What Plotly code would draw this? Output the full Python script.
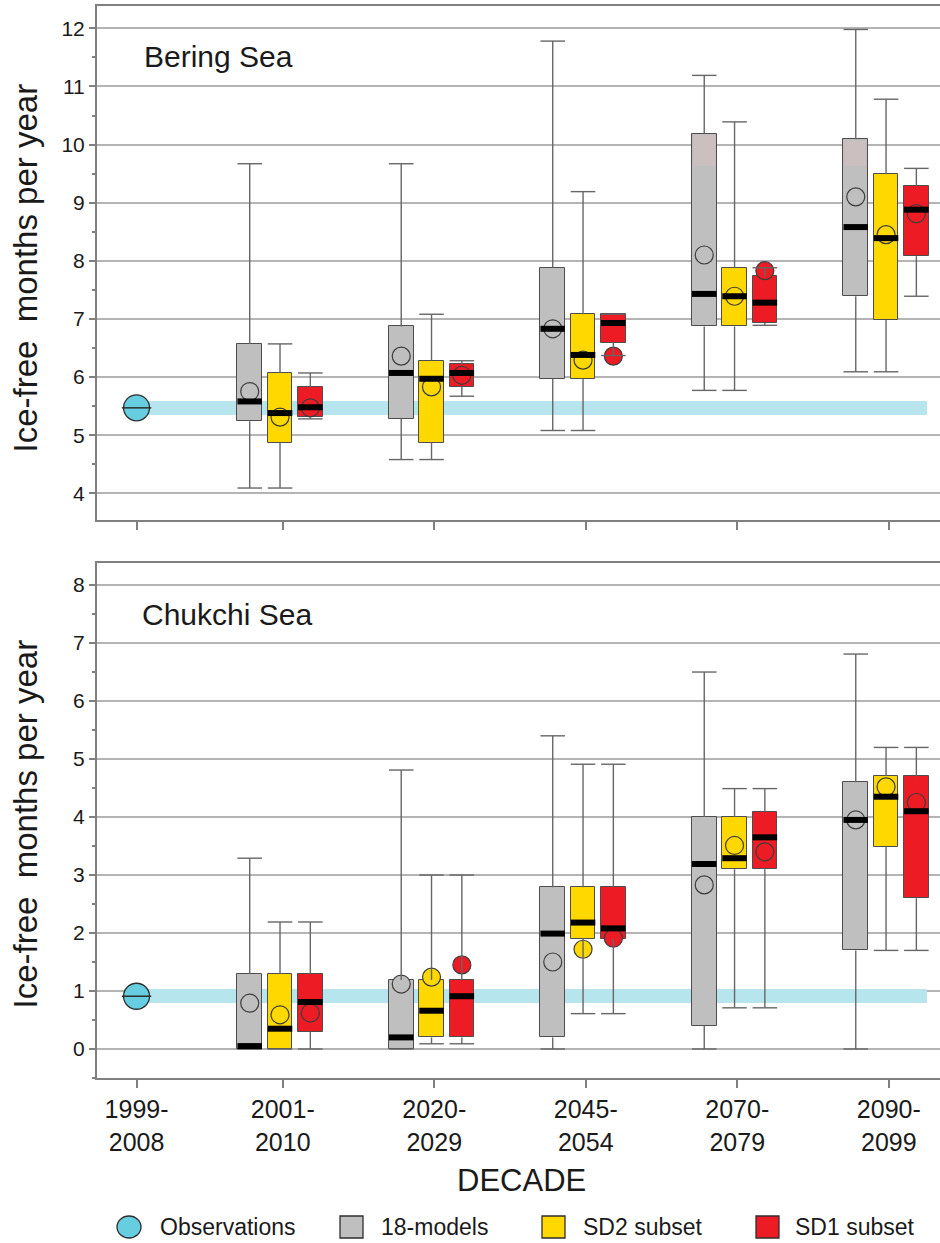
import plotly.graph_objects as go

# ---------------- data ----------------
decade_labels = ["1999-<br>2008", "2001-<br>2010", "2020-<br>2029",
                 "2045-<br>2054", "2070-<br>2079", "2090-<br>2099"]
series_names = ["18-models", "SD2 subset", "SD1 subset"]

# Bering Sea
bering_obs = 5.47
bering_18_lo = [4.09, 4.58, 5.08, 5.77, 6.09]
bering_18_q1 = [5.24, 5.28, 5.97, 6.87, 7.39]
bering_18_med = [5.58, 6.07, 6.83, 7.43, 8.58]
bering_18_q3 = [6.57, 6.87, 7.88, 10.19, 10.09]
bering_18_hi = [9.67, 9.67, 11.78, 11.19, 11.98]
bering_18_mean = [5.75, 6.36, 6.83, 8.10, 9.10]
# faint pinkish tint visible at the top of two grey boxes (lower edge of tint)
bering_18_tint = [None, None, None, 9.63, 9.63]

bering_sd2_lo = [4.09, 4.58, 5.08, 5.77, 6.09]
bering_sd2_q1 = [4.87, 4.87, 5.97, 6.87, 6.98]
bering_sd2_med = [5.38, 5.97, 6.38, 7.39, 8.39]
bering_sd2_q3 = [6.07, 6.28, 7.08, 7.88, 9.49]
bering_sd2_hi = [6.57, 7.08, 9.19, 10.39, 10.78]
bering_sd2_mean = [5.31, 5.83, 6.29, 7.39, 8.45]

bering_sd1_lo = [5.28, 5.67, 6.37, 6.89, 7.39]
bering_sd1_q1 = [5.31, 5.83, 6.59, 6.93, 8.08]
bering_sd1_med = [5.48, 6.07, 6.93, 7.28, 8.88]
bering_sd1_q3 = [5.82, 6.22, 7.08, 7.73, 9.29]
bering_sd1_hi = [6.07, 6.28, 7.08, 7.88, 9.59]
bering_sd1_mean = [5.47, 6.03, 6.36, 7.83, 8.81]

# Chukchi Sea
chukchi_obs = 0.91
chukchi_18_lo = [0.0, 0.0, 0.0, 0.0, 0.0]
chukchi_18_q1 = [0.0, 0.0, 0.20, 0.40, 1.70]
chukchi_18_med = [0.05, 0.20, 1.99, 3.19, 3.95]
chukchi_18_q3 = [1.30, 1.19, 2.79, 4.00, 4.60]
chukchi_18_hi = [3.29, 4.81, 5.40, 6.50, 6.81]
chukchi_18_mean = [0.79, 1.12, 1.50, 2.83, 3.95]

chukchi_sd2_lo = [0.0, 0.09, 0.61, 0.71, 1.70]
chukchi_sd2_q1 = [0.0, 0.20, 1.90, 3.10, 3.49]
chukchi_sd2_med = [0.35, 0.66, 2.18, 3.29, 4.35]
chukchi_sd2_q3 = [1.30, 1.19, 2.79, 4.00, 4.71]
chukchi_sd2_hi = [2.19, 3.00, 4.91, 4.49, 5.20]
chukchi_sd2_mean = [0.59, 1.24, 1.72, 3.51, 4.52]

chukchi_sd1_lo = [0.0, 0.09, 0.61, 0.71, 1.70]
chukchi_sd1_q1 = [0.30, 0.20, 1.90, 3.10, 2.60]
chukchi_sd1_med = [0.81, 0.91, 2.08, 3.65, 4.10]
chukchi_sd1_q3 = [1.30, 1.19, 2.79, 4.09, 4.70]
chukchi_sd1_hi = [2.19, 3.00, 4.91, 4.49, 5.20]
chukchi_sd1_mean = [0.62, 1.45, 1.91, 3.40, 4.25]

# ---------------- style ----------------
FONT = "Arial, Liberation Sans, sans-serif"
TXT = "#1a1a1a"
C_GRAY = "#bfbfbf"
C_TINT = "#cbbfbf"
C_YEL = "#ffd800"
C_RED = "#ed1c24"
C_OBS = "#67cde0"
C_BAND = "#b6e5ed"
EDGE = "#4d4d4d"
WHISK = "#666666"
AXC = "#808080"
GRID = "#b4b4b4"

W, H = 940, 1243
ML, MR, MT, MB = 97, 0, 6, 165
PW, PH = W - ML - MR, H - MT - MB


def pxx(px):
    return (px - ML) / PW


def pxy(py):
    return (H - MB - py) / PH


DECADE_X = [0.035, 1, 2, 3, 4, 5]
OFFSETS = [-0.218, -0.018, 0.182]
BOX_W = 0.162
TINT_W = 0.14
BAND_END = 5.25
BAND_W = 0.245
model_pos = DECADE_X[1:]
obs_pos = DECADE_X[0]

fig = go.Figure()


def add_panel(xa, ya, obs, groups, tint=None):
    # observation band (horizontal bar behind the boxes)
    fig.add_trace(go.Bar(orientation="h", y=[obs], x=[BAND_END - obs_pos], base=[obs_pos],
                         width=BAND_W, marker=dict(color=C_BAND, line=dict(width=0)),
                         xaxis=xa, yaxis=ya, showlegend=False, hoverinfo="skip"))
    cols = [C_GRAY, C_YEL, C_RED]
    for (lo, q1, med, q3, hi, mean), off, col in zip(groups, OFFSETS, cols):
        xs = [p + off for p in model_pos]
        fig.add_trace(go.Bar(x=xs, y=[b - a for a, b in zip(q1, q3)], base=q1, width=BOX_W,
                             marker=dict(color=col, line=dict(color=EDGE, width=1)),
                             xaxis=xa, yaxis=ya, showlegend=False, hoverinfo="skip"))
    if tint is not None:
        q3 = groups[0][3]
        tx, ty, tb = [], [], []
        for p, t, b in zip(model_pos, tint, q3):
            if t is not None:
                tx.append(p + OFFSETS[0])
                tb.append(t)
                ty.append(b - t - 0.03)
        fig.add_trace(go.Bar(x=tx, y=ty, base=tb, width=TINT_W,
                             marker=dict(color=C_TINT, line=dict(width=0)),
                             xaxis=xa, yaxis=ya, showlegend=False, hoverinfo="skip"))
    for (lo, q1, med, q3, hi, mean), off, col in zip(groups, OFFSETS, cols):
        xs = [p + off for p in model_pos]
        fig.add_trace(go.Scatter(x=xs, y=mean, mode="markers",
                                 marker=dict(symbol="circle", size=18, color=col,
                                             line=dict(color="#3d3d3d", width=1.2)),
                                 xaxis=xa, yaxis=ya, showlegend=False, hoverinfo="skip"))
    for (lo, q1, med, q3, hi, mean), off, col in zip(groups, OFFSETS, cols):
        wx, wy = [], []
        mx, my = [], []
        for p, l, a, m, b, h in zip(model_pos, lo, q1, med, q3, hi):
            c = p + off
            wx += [c, c, None, c - BOX_W / 2, c + BOX_W / 2, None]
            wy += [b, h, None, h, h, None]
            wx += [c, c, None, c - BOX_W / 2, c + BOX_W / 2, None]
            wy += [a, l, None, l, l, None]
            mx += [c - BOX_W / 2, c + BOX_W / 2, None]
            my += [m, m, None]
        fig.add_trace(go.Scatter(x=wx, y=wy, mode="lines", line=dict(color=WHISK, width=1.4),
                                 xaxis=xa, yaxis=ya, showlegend=False, hoverinfo="skip"))
        fig.add_trace(go.Scatter(x=mx, y=my, mode="lines", line=dict(color="black", width=6),
                                 xaxis=xa, yaxis=ya, showlegend=False, hoverinfo="skip"))
    fig.add_trace(go.Scatter(x=[obs_pos], y=[obs], mode="markers",
                             marker=dict(symbol="circle", size=26, color=C_OBS,
                                         line=dict(color="#2e2e2e", width=1.3)),
                             xaxis=xa, yaxis=ya, showlegend=False, hoverinfo="skip"))
    fig.add_trace(go.Scatter(x=[obs_pos], y=[obs], mode="markers",
                             marker=dict(symbol="line-ew", size=21,
                                         line=dict(color="#2e2e2e", width=1.5)),
                             xaxis=xa, yaxis=ya, showlegend=False, hoverinfo="skip"))


add_panel("x", "y", bering_obs, [
    (bering_18_lo, bering_18_q1, bering_18_med, bering_18_q3, bering_18_hi, bering_18_mean),
    (bering_sd2_lo, bering_sd2_q1, bering_sd2_med, bering_sd2_q3, bering_sd2_hi, bering_sd2_mean),
    (bering_sd1_lo, bering_sd1_q1, bering_sd1_med, bering_sd1_q3, bering_sd1_hi, bering_sd1_mean),
], tint=bering_18_tint)
add_panel("x2", "y2", chukchi_obs, [
    (chukchi_18_lo, chukchi_18_q1, chukchi_18_med, chukchi_18_q3, chukchi_18_hi, chukchi_18_mean),
    (chukchi_sd2_lo, chukchi_sd2_q1, chukchi_sd2_med, chukchi_sd2_q3, chukchi_sd2_hi, chukchi_sd2_mean),
    (chukchi_sd1_lo, chukchi_sd1_q1, chukchi_sd1_med, chukchi_sd1_q3, chukchi_sd1_hi, chukchi_sd1_mean),
])

yax = dict(showgrid=True, gridcolor=GRID, gridwidth=1.5, zeroline=False,
           showline=True, linecolor=AXC, linewidth=2,
           ticks="outside", ticklen=6, tickwidth=1.5, tickcolor=AXC,
           tickfont=dict(family=FONT, size=21, color=TXT), dtick=1, tick0=0,
           minor=dict(dtick=0.5, ticks="outside", ticklen=3, tickwidth=1.5,
                      tickcolor=AXC, showgrid=False))
xax = dict(range=[-0.226, 5.338], showgrid=False, zeroline=False, showline=True,
           mirror=True, linecolor=AXC, linewidth=2, ticks="outside", ticklen=8,
           tickwidth=1.5, tickcolor=AXC, tickmode="array",
           tickvals=DECADE_X, ticktext=decade_labels,
           tickfont=dict(family=FONT, size=25, color=TXT))

fig.update_layout(
    width=W, height=H, margin=dict(l=ML, r=MR, t=MT, b=MB),
    paper_bgcolor="white", plot_bgcolor="white", barmode="overlay", bargap=0,
    showlegend=False,
    xaxis=dict(xax, anchor="y", showticklabels=False),
    xaxis2=dict(xax, anchor="y2"),
    yaxis=dict(yax, domain=[pxy(520), 1], range=[3.54, 12.384]),
    yaxis2=dict(yax, domain=[0, pxy(563)], range=[-0.5, 8.38]),
)

ann = []
ytitle = "Ice-free\u00a0 months per year"
ann.append(dict(text=ytitle, textangle=-90, xref="paper", yref="paper",
                x=pxx(25), y=pxy(82), xanchor="center", yanchor="top", showarrow=False,
                font=dict(family=FONT, size=33, color=TXT)))
ann.append(dict(text=ytitle, textangle=-90, xref="paper", yref="paper",
                x=pxx(25), y=pxy(638), xanchor="center", yanchor="top", showarrow=False,
                font=dict(family=FONT, size=33, color=TXT)))
ann.append(dict(text="Bering Sea", xref="paper", yref="paper", x=pxx(142), y=pxy(56),
                xanchor="left", yanchor="middle", showarrow=False,
                font=dict(family=FONT, size=30, color=TXT)))
ann.append(dict(text="Chukchi Sea", xref="paper", yref="paper", x=pxx(140), y=pxy(614),
                xanchor="left", yanchor="middle", showarrow=False,
                font=dict(family=FONT, size=30, color=TXT)))
ann.append(dict(text="DECADE", xref="paper", yref="paper", x=pxx(521), y=pxy(1180),
                xanchor="center", yanchor="middle", showarrow=False,
                font=dict(family=FONT, size=31, color=TXT)))

legend_items = [("Observations", C_OBS, "circle", 117, 141, 158),
                ("18-models", C_GRAY, "rect", 340, 363, 379),
                ("SD2 subset", C_YEL, "rect", 542, 565, 581),
                ("SD1 subset", C_RED, "rect", 756, 779, 793)]
shapes = []
for name, col, kind, x0, x1, tx in legend_items:
    shapes.append(dict(type=kind, xref="paper", yref="paper",
                       x0=pxx(x0), x1=pxx(x1), y0=pxy(1238), y1=pxy(1216),
                       fillcolor=col, line=dict(color="#2e2e2e", width=1.3)))
    ann.append(dict(text=name, xref="paper", yref="paper", x=pxx(tx), y=pxy(1227),
                    xanchor="left", yanchor="middle", showarrow=False,
                    font=dict(family=FONT, size=23, color=TXT)))

fig.update_layout(annotations=ann, shapes=shapes)
fig.write_html("out.html")
